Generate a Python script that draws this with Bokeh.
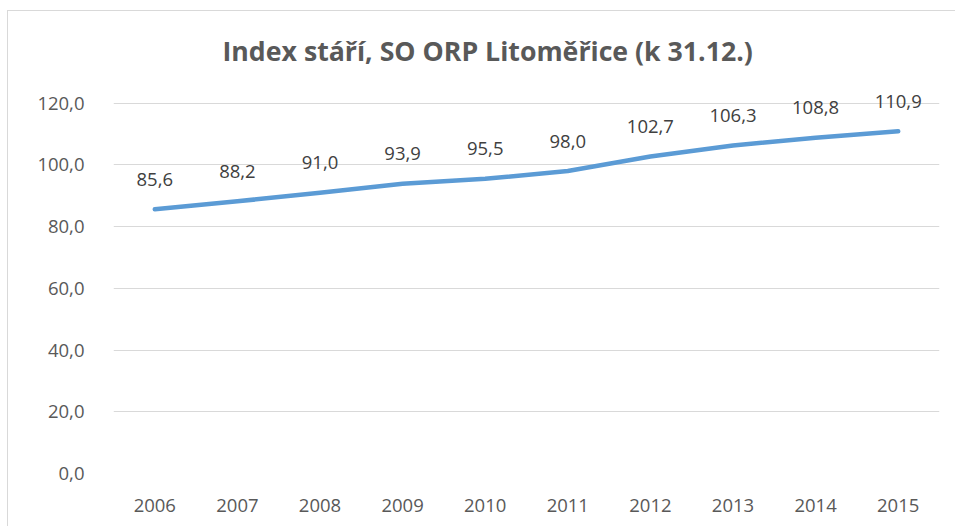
from bokeh.plotting import figure
from bokeh.models import ColumnDataSource, LabelSet, FixedTicker, Title
from bokeh.core.properties import value
from bokeh.embed import file_html
from bokeh.resources import INLINE

years = ["2006", "2007", "2008", "2009", "2010", "2011", "2012", "2013", "2014", "2015"]
values = [85.6, 88.2, 91.0, 93.9, 95.5, 98.0, 102.7, 106.3, 108.8, 110.9]
y_ticks = [0, 20, 40, 60, 80, 100, 120]
title_text = "Index stáří, SO ORP Litoměřice (k 31.12.)"

labels = [f"{v:.1f}".replace(".", ",") for v in values]
src = ColumnDataSource(dict(x=years, y=values, lab=labels))

FONT = "Open Sans"
# frame extends a little above the top gridline (120) so the data labels are not clipped
p = figure(x_range=years, y_range=(0, 128), width=948, height=516,
           output_backend="svg", toolbar_location=None,
           min_border_left=105, min_border_right=17, min_border_top=67, min_border_bottom=54)
p.styles = {"border-left": "1px solid #d9d9d9", "border-top": "1px solid #d9d9d9",
            "margin-left": "7px", "margin-top": "10px"}
p.outline_line_color = None
p.background_fill_color = "white"
p.border_fill_color = "white"

p.title = Title(text=title_text, align="left", offset=109, standoff=19,
                text_font=FONT, text_font_style="bold", text_font_size="26.7px",
                text_color="#595959")

p.line("x", "y", source=src, line_color="#5B9BD5", line_width=4.5, line_cap="round", line_join="round")

ls = LabelSet(x="x", y="y", text="lab", source=src, y_offset=30, text_align="center",
              text_baseline="middle", text_font=value(FONT), text_font_size="18.5px",
              text_color="#404040")
p.add_layout(ls)

p.yaxis.ticker = FixedTicker(ticks=y_ticks)
p.yaxis.major_label_overrides = {t: f"{t:.1f}".replace(".", ",") for t in y_ticks}
for ax in (p.xaxis[0], p.yaxis[0]):
    ax.axis_line_color = None
    ax.major_tick_line_color = None
    ax.minor_tick_line_color = None
    ax.major_label_text_font = FONT
    ax.major_label_text_font_size = "18.5px"
    ax.major_label_text_color = "#595959"
p.yaxis.major_label_standoff = 23
p.xaxis.major_label_standoff = 19

p.xgrid.grid_line_color = None
p.ygrid.grid_line_color = "#d9d9d9"
p.ygrid.grid_line_width = 1

open("out.html", "w").write(file_html(p, INLINE))
